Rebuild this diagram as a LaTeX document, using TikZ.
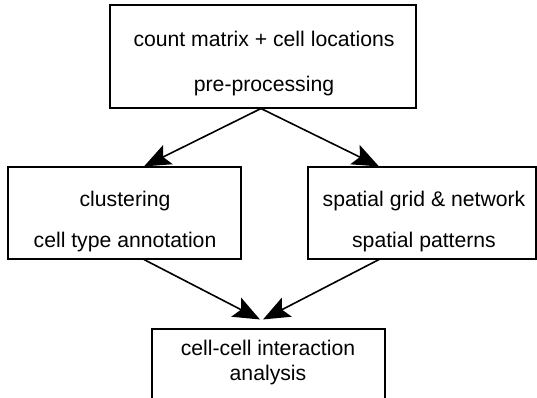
\documentclass[tikz,border=0pt]{standalone}
\usepackage{fontspec}
\setmainfont{Liberation Sans}
\usepackage{tikz}
\usetikzlibrary{arrows.meta}

\begin{document}
\begin{tikzpicture}[x=0.75pt, y=-0.75pt,
  stage/.style={draw, line width=0.8pt, inner sep=0pt},
  txt/.style={font=\fontsize{15.9}{18.8}\selectfont, anchor=base, inner sep=0pt},
  arr/.style={-{Stealth[length=20pt, width=16pt, inset=4pt]}, line width=1.2pt}
]
  \useasboundingbox (0,0) rectangle (537,398);
  \clip (0,0) rectangle (537,398);

  % input + pre-processing (top)
  \node[stage, minimum width=229.5pt, minimum height=77.25pt] (prep) at (263,56.5) {};
  \node[txt] (prepa) at (264,46.5) {count matrix + cell locations};
  \node[txt] (prepb) at (264,91.5) {pre-processing};

  % clustering branch (left)
  \node[stage, minimum width=174.75pt, minimum height=69pt] (clust) at (124.5,213) {};
  \node[txt] (clusta) at (125,207) {clustering};
  \node[txt] (clustb) at (125,248) {cell type annotation};

  % spatial branch (right)
  \node[stage, minimum width=171pt, minimum height=69pt] (spat) at (422,213) {};
  \node[txt] (spata) at (424,207) {spatial grid \& network};
  \node[txt] (spatb) at (424,248) {spatial patterns};

  % interaction analysis (bottom, runs off the page)
  \node[stage, minimum width=174.75pt, minimum height=57pt] (inter) at (268.5,367) {};
  \node[txt] (intera) at (268,356) {cell-cell interaction};
  \node[txt] (interb) at (268,380.5) {analysis};

  \draw[arr] ([xshift=-1.5pt]prep.south) -- ([xshift=14.6pt]clust.north);
  \draw[arr] ([xshift=-1.5pt]prep.south) -- ([xshift=-32.25pt]spat.north);
  \draw[arr] ([xshift=14.6pt]clust.south) -- ([xshift=-6.4pt,yshift=6.75pt]inter.north);
  \draw[arr] ([xshift=-32.25pt]spat.south) -- ([xshift=-4.1pt,yshift=6.75pt]inter.north);
\end{tikzpicture}
\end{document}
